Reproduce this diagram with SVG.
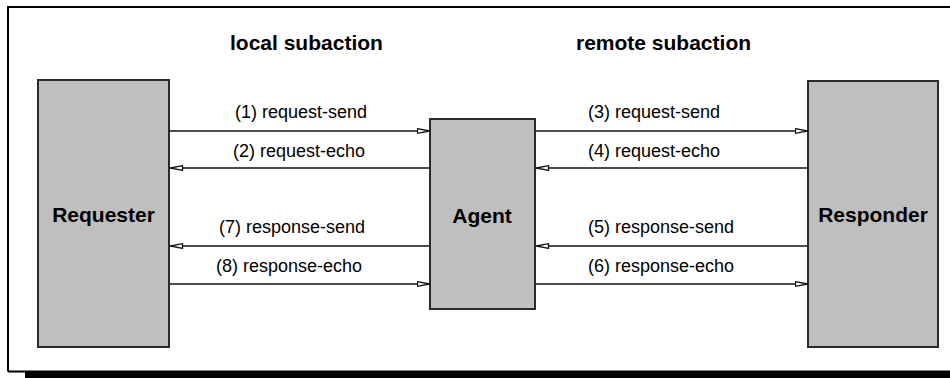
<svg xmlns="http://www.w3.org/2000/svg" width="950" height="378" viewBox="0 0 950 378">
<style>
.box{fill:#bfbfbf;stroke:#2a2a2a;stroke-width:2}
.bold{font-family:"Liberation Sans",Arial,sans-serif;font-weight:bold;font-size:21px;fill:#000}
.lbl{font-family:"Liberation Sans",Arial,sans-serif;font-size:18px;fill:#000}
.conn{stroke:#111;stroke-width:1.6;fill:none}
</style>
<defs>
<marker id="ah" markerUnits="userSpaceOnUse" viewBox="0 0 14 7" refX="13.5" refY="3.5" markerWidth="14" markerHeight="7" orient="auto">
<path d="M1,1.2 L13,3.5 L1,5.8 Z" fill="#fff" stroke="#111" stroke-width="1.3"/>
</marker>
</defs>
<rect x="0" y="0" width="950" height="378" fill="#fff"/>
<g id="frame">
<path d="M8,371.5 V7 H950" fill="none" stroke="#000" stroke-width="2"/>
<path d="M8,371.5 H950" fill="none" stroke="#000" stroke-width="2"/>
<rect x="25" y="372" width="925" height="6" fill="#000"/>
</g>
<g id="titles">
<text class="bold" x="230" y="50">local subaction</text>
<text class="bold" x="576" y="50">remote subaction</text>
</g>
<g id="requester">
<rect class="box" x="38" y="80" width="131" height="267"/>
<text class="bold" x="103.5" y="222" text-anchor="middle">Requester</text>
</g>
<g id="agent">
<rect class="box" x="430" y="119" width="105" height="190"/>
<text class="bold" x="482" y="223" text-anchor="middle">Agent</text>
</g>
<g id="responder">
<rect class="box" x="808" y="81" width="130" height="266"/>
<text class="bold" x="873" y="222" text-anchor="middle">Responder</text>
</g>
<g id="connectors">
<line class="conn" x1="170" y1="131" x2="430" y2="131" marker-end="url(#ah)"/>
<line class="conn" x1="429" y1="168" x2="170" y2="168" marker-end="url(#ah)"/>
<line class="conn" x1="429" y1="246" x2="170" y2="246" marker-end="url(#ah)"/>
<line class="conn" x1="170" y1="284" x2="430" y2="284" marker-end="url(#ah)"/>
<line class="conn" x1="536" y1="131" x2="808" y2="131" marker-end="url(#ah)"/>
<line class="conn" x1="807" y1="168" x2="536" y2="168" marker-end="url(#ah)"/>
<line class="conn" x1="807" y1="246" x2="536" y2="246" marker-end="url(#ah)"/>
<line class="conn" x1="536" y1="284" x2="808" y2="284" marker-end="url(#ah)"/>
<text class="lbl" x="235" y="118">(1) request-send</text>
<text class="lbl" x="233" y="157">(2) request-echo</text>
<text class="lbl" x="219" y="233">(7) response-send</text>
<text class="lbl" x="216" y="272">(8) response-echo</text>
<text class="lbl" x="588" y="118">(3) request-send</text>
<text class="lbl" x="588" y="157">(4) request-echo</text>
<text class="lbl" x="588" y="233">(5) response-send</text>
<text class="lbl" x="588" y="272">(6) response-echo</text>
</g>
</svg>
